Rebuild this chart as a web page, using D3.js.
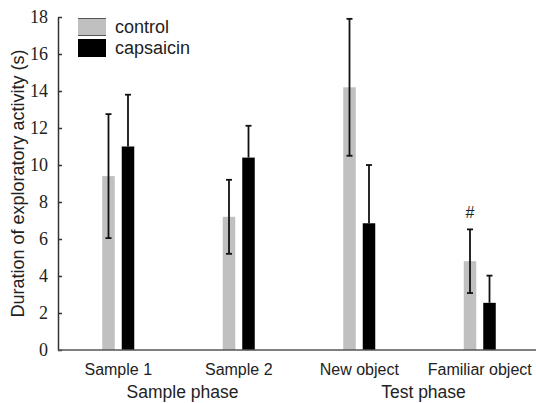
<!DOCTYPE html>
<html><head><meta charset="utf-8">
<script src="https://cdn.jsdelivr.net/npm/d3@7"></script>
<style>html,body{margin:0;padding:0;background:#fff;}svg{display:block;}</style>
</head><body>
<script>
const categories = ["Sample 1", "Sample 2", "New object", "Familiar object"];
const seriesNames = ["control", "capsaicin"];
const controlMean = [9.4, 7.2, 14.2, 4.8];
const controlErr = [3.35, 2.0, 3.7, 1.72];
const capsaicinMean = [11.0, 10.4, 6.85, 2.55];
const capsaicinErr = [2.8, 1.72, 3.15, 1.47];
const yTicks = [0, 2, 4, 6, 8, 10, 12, 14, 16, 18];
const phases = [{label: "Sample phase", cats: ["Sample 1", "Sample 2"]}, {label: "Test phase", cats: ["New object", "Familiar object"]}];
const marks = [{cat: "Familiar object", series: "control", text: "#"}];

const W = 536, H = 403;
const svg = d3.select("body").append("svg").attr("width", W).attr("height", H);

const x0 = d3.scaleBand().domain(categories).range([58, 540]).padding(0);
const xs = d3.scaleBand().domain(seriesNames).range([x0.bandwidth()/2 - 16, x0.bandwidth()/2 + 16]).paddingInner(0.359).paddingOuter(0);
const y = d3.scaleLinear().domain([0, 18]).range([350, 17]);
const colors = {control: "#c0c0c0", capsaicin: "#000000"};

const data = [];
categories.forEach((c, i) => {
  data.push({cat: c, series: "control", v: controlMean[i], e: controlErr[i]});
  data.push({cat: c, series: "capsaicin", v: capsaicinMean[i], e: capsaicinErr[i]});
});

// bars
svg.selectAll("rect.bar").data(data).enter().append("rect")
  .attr("class", "bar")
  .attr("x", d => x0(d.cat) + xs(d.series))
  .attr("width", xs.bandwidth())
  .attr("y", d => y(d.v))
  .attr("height", d => y(0) - y(d.v))
  .attr("fill", d => colors[d.series]);

// error bars (lower whisker of black bars is hidden inside the bar)
const eb = svg.selectAll("g.eb").data(data).enter().append("g").attr("class", "eb")
  .attr("stroke", "#111").attr("stroke-width", 1.8);
const cx = d => x0(d.cat) + xs(d.series) + xs.bandwidth()/2;
const lowV = d => d.series === "capsaicin" ? d.v : d.v - d.e;
eb.append("line").attr("x1", cx).attr("x2", cx).attr("y1", d => y(d.v + d.e)).attr("y2", d => y(lowV(d)));
eb.append("line").attr("x1", d => cx(d) - 3).attr("x2", d => cx(d) + 3).attr("y1", d => y(d.v + d.e)).attr("y2", d => y(d.v + d.e));
eb.filter(d => d.series === "control").append("line").attr("x1", d => cx(d) - 3).attr("x2", d => cx(d) + 3).attr("y1", d => y(d.v - d.e)).attr("y2", d => y(d.v - d.e));

// y axis
const yAxis = d3.axisLeft(y).tickValues(yTicks).tickSizeInner(-4).tickSizeOuter(0).tickPadding(10);
const gy = svg.append("g").attr("transform", "translate(58,0)").call(yAxis);
gy.select(".domain").attr("stroke", "#333").attr("stroke-width", 1.5);
gy.selectAll(".tick line").attr("stroke", "#333").attr("stroke-width", 1.5);
gy.selectAll(".tick text").attr("font-family", "'Liberation Serif', 'Times New Roman', serif").attr("font-size", 18).attr("fill", "#222");

// x axis
const xAxis = d3.axisBottom(x0).tickSize(0).tickPadding(14);
const gx = svg.append("g").attr("transform", "translate(0,350)").call(xAxis);
gx.select(".domain").attr("stroke", "#555").attr("stroke-width", 1.5).attr("d", "M58,0H536");
gx.selectAll(".tick text").attr("font-family", "'Liberation Sans', Arial, sans-serif").attr("font-size", 16).attr("fill", "#222");

// phase labels
svg.selectAll("text.phase").data(phases).enter().append("text")
  .attr("class", "phase")
  .attr("x", d => (x0(d.cats[0]) + x0(d.cats[1]) + x0.bandwidth()) / 2 + 4)
  .attr("y", 398)
  .attr("text-anchor", "middle")
  .attr("font-family", "'Liberation Sans', Arial, sans-serif").attr("font-size", 17.5).attr("fill", "#222")
  .text(d => d.label);

// y label
svg.append("text")
  .attr("transform", "translate(24," + ((y(0) + y(18)) / 2) + ") rotate(-90)")
  .attr("text-anchor", "middle")
  .attr("font-family", "'Liberation Sans', Arial, sans-serif").attr("font-size", 18).attr("fill", "#222")
  .text("Duration of exploratory activity (s)");

// significance marks
svg.selectAll("text.mark").data(marks).enter().append("text")
  .attr("class", "mark")
  .attr("x", d => x0(d.cat) + xs(d.series) + xs.bandwidth()/2)
  .attr("y", d => {
    const i = categories.indexOf(d.cat);
    return y(controlMean[i] + controlErr[i]) - 11;
  })
  .attr("text-anchor", "middle")
  .attr("font-family", "'Liberation Sans', Arial, sans-serif").attr("font-size", 16).attr("fill", "#222")
  .text(d => d.text);

// legend
const legend = svg.append("g");
seriesNames.forEach((s, i) => {
  const ly = 18 + i * 21;
  legend.append("rect").attr("x", 78).attr("y", ly).attr("width", 28).attr("height", 18).attr("fill", colors[s]);
  if (s === "control") {
    legend.append("line").attr("x1", 78).attr("x2", 106).attr("y1", ly + 0.5).attr("y2", ly + 0.5).attr("stroke", "#555").attr("stroke-width", 1);
    legend.append("line").attr("x1", 78).attr("x2", 106).attr("y1", ly + 17.5).attr("y2", ly + 17.5).attr("stroke", "#555").attr("stroke-width", 1);
  }
  legend.append("text").attr("x", 115).attr("y", ly + 15).attr("font-family", "'Liberation Sans', Arial, sans-serif").attr("font-size", 18).attr("fill", "#222").text(s);
});
</script>
</body></html>
